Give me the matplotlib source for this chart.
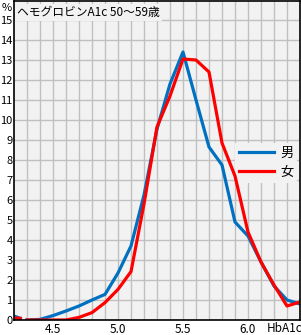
import numpy as np
import matplotlib.pyplot as plt

plt.rcParams['font.family'] = ['Noto Sans CJK JP', 'DejaVu Sans']

# HbA1c classes (0.1 steps) and share in percent
hba1c = [4.3, 4.4, 4.5, 4.6, 4.7, 4.8, 4.9, 5.0, 5.1, 5.2, 5.3,
         5.4, 5.5, 5.6, 5.7, 5.8, 5.9, 6.0, 6.1, 6.2, 6.3, 6.4]
male = [0.0, 0.03, 0.22, 0.45, 0.7, 1.0, 1.28, 2.35, 3.7, 6.25, 9.55,
        11.8, 13.4, 11.0, 8.65, 7.75, 4.9, 4.2, 2.9, 1.7, 1.0, 0.8]
female = [0.0, 0.0, 0.0, 0.0, 0.13, 0.37, 0.87, 1.53, 2.42, 5.8, 9.65,
          11.2, 13.05, 13.0, 12.4, 8.85, 7.2, 4.4, 2.9, 1.75, 0.7, 0.9]
# short piece at the left edge
edge_x = [4.2, 4.26]
edge_male = [0.2, 0.05]
edge_female = [0.1, 0.08]

blue = '#0070c0'
red = '#ff0000'

fig = plt.figure(figsize=(3.01, 3.35), dpi=100)
ax = fig.add_axes([14/301, 15/335, 286/301, 319/335])
ax.set_facecolor('#f2f2f2')

ax.plot(edge_x, edge_male, color=blue, lw=2.3, solid_capstyle='butt')
ax.plot(edge_x, edge_female, color=red, lw=2.3, solid_capstyle='butt')
ax.plot(hba1c, male, color=blue, lw=2.3, label='男')
ax.plot(hba1c, female, color=red, lw=2.3, label='女')

ax.set_xlim(4.2, 6.4)
ax.set_ylim(0, 15.95)
ax.set_yticks(range(0, 16))
ax.set_xticks(np.round(np.arange(4.3, 6.35, 0.1), 1), minor=True)
ax.set_xticks([4.5, 5.0, 5.5, 6.0])
ax.set_xticklabels(['4.5', '5.0', '5.5', '6.0'])
ax.grid(True, which='both', color='#c0c0c0', lw=1)
ax.set_axisbelow(True)
ax.tick_params(axis='x', length=0, labelsize=8.5, pad=2)
ax.tick_params(axis='y', length=0, labelsize=8, pad=1)
ax.tick_params(which='minor', length=0)
for s in ax.spines.values():
    s.set_color('black')
    s.set_linewidth(1.2)

ax.text(6.28, -0.12, 'HbA1c', fontsize=8.5, ha='center', va='top')
fig.text(2/301, 1 - 8/335, '%', fontsize=8, va='center', ha='left')
ax.text(0.012, 0.985, 'ヘモグロビンA1c 50～59歳', transform=ax.transAxes,
        fontsize=8.5, va='top', ha='left',
        bbox=dict(facecolor='#f2f2f2', edgecolor='none', pad=1.5))

leg = ax.legend(loc='upper right', bbox_to_anchor=(1.0, 0.563), frameon=True,
                fontsize=9.5, handlelength=2.6, handletextpad=0.5,
                borderpad=0.3, labelspacing=0.45, borderaxespad=0.2)
leg.get_frame().set_facecolor('#f2f2f2')
leg.get_frame().set_edgecolor('none')
leg.get_frame().set_alpha(1)
leg.get_frame().set_boxstyle('square', pad=0)
leg.set_zorder(1.5)  # cover grid, stay under the lines

fig.savefig('out.png', dpi=100)
